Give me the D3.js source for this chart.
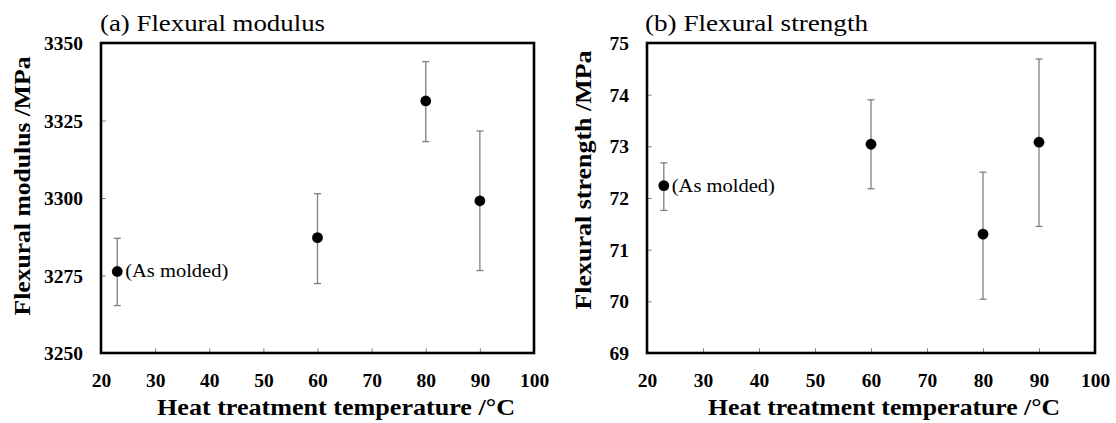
<!DOCTYPE html>
<html>
<head>
<meta charset="utf-8">
<script src="https://cdn.jsdelivr.net/npm/d3@7"></script>
<style>
  html, body { margin: 0; padding: 0; background: #fff; }
  svg text { font-family: "Liberation Serif", "Times New Roman", serif !important; fill: #000; }
</style>
</head>
<body>
<svg id="chart" width="1116" height="423"></svg>
<script>
// Heat treatment temperatures (°C); 23 °C is the as-molded reference
const temperatures = [23, 60, 80, 90];

// (a) Flexural modulus, MPa: mean and error-bar bounds
const modulusMean = [3276.3, 3287.2, 3331.3, 3299.1];
const modulusLow  = [3265.3, 3272.4, 3318.2, 3276.6];
const modulusHigh = [3287.0, 3301.4, 3344.0, 3321.6];

// (b) Flexural strength, MPa: mean and error-bar bounds
const strengthMean = [72.24, 73.04, 71.30, 73.08];
const strengthLow  = [71.76, 72.18, 70.04, 71.45];
const strengthHigh = [72.68, 73.90, 72.50, 74.69];

const xTicks = [20, 30, 40, 50, 60, 70, 80, 90, 100];
const modulusTicks = [3250, 3275, 3300, 3325, 3350];
const strengthTicks = [69, 70, 71, 72, 73, 74, 75];

const svg = d3.select("#chart");

function panel(opt) {
  const g = svg.append("g");
  const x = d3.scaleLinear().domain([20, 100]).range([opt.left, opt.right]);
  const y = d3.scaleLinear().domain(opt.yDomain).range([opt.bottom, opt.top]);

  // inward ticks (light gray)
  const xAxis = d3.axisBottom(x).tickValues(xTicks).tickSizeInner(-5).tickSizeOuter(0).tickFormat(d3.format("d"));
  const yAxis = d3.axisLeft(y).tickValues(opt.yTicks).tickSizeInner(-5).tickSizeOuter(0).tickFormat(d3.format("d"));

  const gx = g.append("g").attr("transform", `translate(0,${opt.bottom})`).call(xAxis);
  const gy = g.append("g").attr("transform", `translate(${opt.left},0)`).call(yAxis);
  [gx, gy].forEach(a => {
    a.attr("font-family", null);
    a.select(".domain").remove();
    a.selectAll(".tick line").attr("stroke", "#8a8a8a").attr("stroke-width", 1);
    a.selectAll(".tick text")
      .attr("font-weight", "bold")
      .attr("font-size", 19.5)
      .attr("fill", "#000");
  });
  gx.selectAll(".tick text").attr("y", 0).attr("dy", null).attr("transform", "translate(0,34)");
  gy.selectAll(".tick text").attr("x", -18).attr("dy", "0.34em");

  // error bars
  const cap = 3.5;
  const eb = g.append("g").attr("stroke", "#7f7f7f").attr("stroke-width", 1.3);
  temperatures.forEach((t, i) => {
    const cx = x(t);
    eb.append("line").attr("x1", cx).attr("x2", cx).attr("y1", y(opt.low[i])).attr("y2", y(opt.high[i]));
    eb.append("line").attr("x1", cx - cap).attr("x2", cx + cap).attr("y1", y(opt.low[i])).attr("y2", y(opt.low[i]));
    eb.append("line").attr("x1", cx - cap).attr("x2", cx + cap).attr("y1", y(opt.high[i])).attr("y2", y(opt.high[i]));
  });

  // mean markers
  g.append("g").selectAll("circle")
    .data(temperatures)
    .join("circle")
    .attr("cx", d => x(d))
    .attr("cy", (d, i) => y(opt.mean[i]))
    .attr("r", 5.4)
    .attr("fill", "#000");

  // as-molded annotation
  g.append("text")
    .attr("x", x(temperatures[0]) + 8)
    .attr("y", y(opt.mean[0]) + 6)
    .attr("font-size", 19)
    .attr("textLength", 103)
    .attr("lengthAdjust", "spacingAndGlyphs")
    .text("(As molded)");

  // frame
  g.append("rect")
    .attr("x", opt.left).attr("y", opt.top)
    .attr("width", opt.right - opt.left).attr("height", opt.bottom - opt.top)
    .attr("fill", "none").attr("stroke", "#000").attr("stroke-width", 2.6);

  // panel title
  g.append("text")
    .attr("x", opt.titleX).attr("y", 31)
    .attr("font-size", 24)
    .attr("textLength", opt.titleLen)
    .attr("lengthAdjust", "spacingAndGlyphs")
    .text(opt.title);

  // x-axis title
  g.append("text")
    .attr("x", opt.xTitleX).attr("y", 415)
    .attr("text-anchor", "middle")
    .attr("font-weight", "bold")
    .attr("font-size", 24)
    .attr("textLength", opt.xTitleLen)
    .attr("lengthAdjust", "spacingAndGlyphs")
    .text("Heat treatment temperature /°C");

  // y-axis title
  g.append("text")
    .attr("transform", `translate(${opt.yTitleX},${opt.yTitleY}) rotate(-90)`)
    .attr("text-anchor", "middle")
    .attr("font-weight", "bold")
    .attr("font-size", 24)
    .attr("textLength", 259)
    .attr("lengthAdjust", "spacingAndGlyphs")
    .text(opt.yTitle);
}

panel({
  left: 101, right: 534, top: 43, bottom: 353,
  yDomain: [3250, 3350], yTicks: modulusTicks,
  mean: modulusMean, low: modulusLow, high: modulusHigh,
  title: "(a) Flexural modulus", titleX: 100, titleLen: 225,
  xTitleX: 336, xTitleLen: 358, yTitleX: 30, yTitleY: 186,
  yTitle: "Flexural modulus /MPa"
});

panel({
  left: 647, right: 1095, top: 43, bottom: 353,
  yDomain: [69, 75], yTicks: strengthTicks,
  mean: strengthMean, low: strengthLow, high: strengthHigh,
  title: "(b) Flexural strength", titleX: 645, titleLen: 223,
  xTitleX: 884, xTitleLen: 352, yTitleX: 591, yTitleY: 180,
  yTitle: "Flexural strength /MPa"
});
</script>
</body>
</html>
